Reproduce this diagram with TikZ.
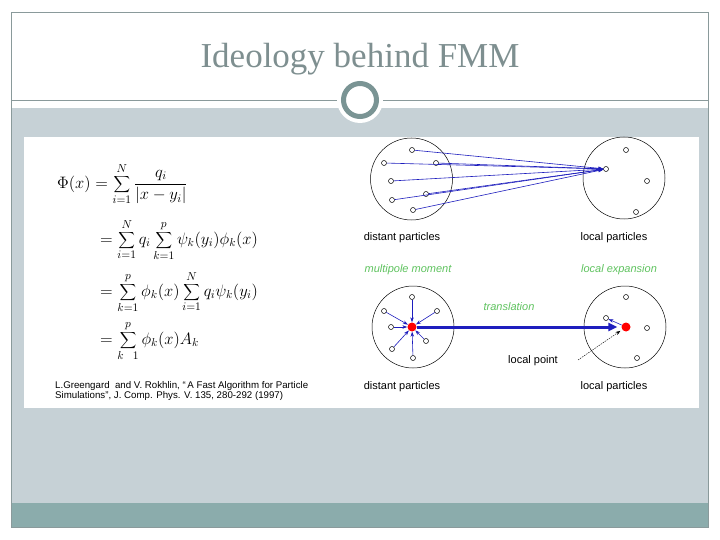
\documentclass[tikz,border=0pt]{standalone}
\usepackage{fontspec}
\setmainfont{Liberation Sans}
\newfontfamily\titlefont{Liberation Serif}
\usetikzlibrary{arrows.meta}

\definecolor{slidegrey}{RGB}{198,209,214}
\definecolor{footteal}{RGB}{139,172,172}
\definecolor{frameline}{RGB}{138,154,155}
\definecolor{titlegrey}{RGB}{126,143,144}
\definecolor{ringgrey}{RGB}{122,148,148}
\definecolor{fieldblue}{RGB}{30,30,190}
\definecolor{labelgreen}{RGB}{95,195,95}

\begin{document}
\begin{tikzpicture}[
  x=1pt, y=-1pt,
  font=\fontsize{11}{12}\selectfont,
  region/.style={circle,draw,line width=0.5pt,minimum size=82pt,inner sep=0pt},
  ptcl/.style={circle,draw,line width=0.5pt,minimum size=5pt,inner sep=0pt},
  centre/.style={circle,fill=red,minimum size=9pt,inner sep=0pt},
  field/.style={-{Stealth[length=5pt,width=3.5pt]},fieldblue,line width=0.6pt},
  tag/.style={text=labelgreen,font=\fontsize{11}{12}\selectfont\itshape},
  eqline/.style={anchor=west,inner sep=0pt,font=\Large,scale=1.15}
]
\useasboundingbox (0,0) rectangle (720,540);

% Slide frame
\fill[slidegrey] (11,108) rectangle (708,503);
\fill[footteal] (11,503) rectangle (708,527);
\draw[frameline,line width=0.8pt] (11,12) rectangle (708,527);
\draw[frameline,line width=0.8pt] (11,100) -- (708,100);
\fill[white] (360,100) circle (23);
\draw[ringgrey,line width=5pt] (360,100) circle (16.5);
\node[anchor=base,font=\titlefont\fontsize{35}{38}\selectfont,text=titlegrey] (title) at (360,68) {Ideology behind FMM};

% Picture area
\fill[white] (24,137) rectangle (699,408);

% Series expansion
\node[eqline] (eq1) at (57,184) {$\displaystyle \Phi(x) = \sum_{i=1}^{N} \frac{q_i}{|x-y_i|}$};
\node[eqline] (eq2) at (100,240) {$\displaystyle = \sum_{i=1}^{N} q_i \sum_{k=1}^{p} \psi_k(y_i)\phi_k(x)$};
\node[eqline] (eq3) at (100,292) {$\displaystyle = \sum_{k=1}^{p} \phi_k(x) \sum_{i=1}^{N} q_i\psi_k(y_i)$};
\node[eqline] (eq4) at (100,341) {$\displaystyle = \sum_{k\ \ 1}^{p} \phi_k(x) A_k$};
\node[anchor=north west,align=left,inner sep=0pt,font=\fontsize{9.7}{10}\selectfont] (cite) at (55,381)
  {L.Greengard\ \ and V. Rokhlin, ``\,A Fast Algorithm for Particle\\Simulations'', J. Comp. Phys. V. 135, 280-292 (1997)};

% Direct evaluation
\node[region] (dfar) at (411.5,179) {};
\node[region] (dnear) at (624,178) {};
\foreach \n/\x/\y in {1/412/150,2/384/163,3/436/163,4/391/181,5/426/194,6/392/200,7/413/210}
  \node[ptcl] (a\n) at (\x,\y) {};
\foreach \n/\x/\y in {1/606/169,2/626/150,3/647/181,4/636/212}
  \node[ptcl] (b\n) at (\x,\y) {};
\foreach \n in {1,...,7}
  \draw[field] (a\n) -- (b1);
\node (dfarlab) at (402,238) {distant particles};
\node (dnearlab) at (614,238) {local particles};

% Multipole and local expansion
\node[tag] (mpole) at (408,270) {multipole moment};
\node[tag] (lexp) at (619,270) {local expansion};
\node[region] (mfar) at (413,327) {};
\node[region] (mnear) at (625,327) {};
\node[centre] (m) at (412,327) {};
\node[centre] (l) at (626,327) {};
\foreach \n/\x/\y in {1/412/297,2/384/311,3/437/311,4/391/327,5/426/341,6/392/349,7/413/358}
  \node[ptcl] (c\n) at (\x,\y) {};
\foreach \n/\x/\y in {1/606/318,2/626/297,3/647/328,4/637/358}
  \node[ptcl] (d\n) at (\x,\y) {};
\foreach \n in {1,...,7}
  \draw[field] (c\n) -- (m);
\draw[field] (l) -- (d1);
\draw[-{Triangle[length=9pt,width=8pt]},fieldblue,line width=3pt,shorten >=4pt] (m) -- (l);
\node[tag] (trans) at (509,307) {translation};

% Local point
\coordinate (lp) at (578,360);
\draw[-{Stealth[length=5pt,width=3.5pt]},line width=0.4pt,dash pattern=on 1.5pt off 1pt,shorten >=2pt] (lp) -- (l);
\node[font=\fontsize{11}{12}\selectfont] (lplab) at (533,361) {local point};
\node (mfarlab) at (402,387) {distant particles};
\node (mnearlab) at (614,387) {local particles};

\end{tikzpicture}
\end{document}
